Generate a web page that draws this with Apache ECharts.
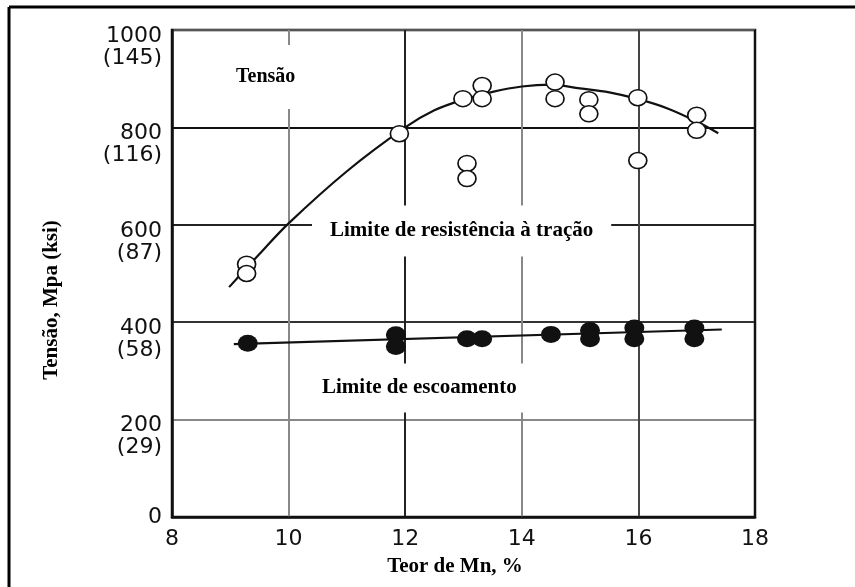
<!DOCTYPE html>
<html>
<head>
<meta charset="utf-8">
<script src="https://cdn.jsdelivr.net/npm/echarts@6/dist/echarts.min.js"></script>
<style>
  html, body { margin: 0; padding: 0; background: #fff; }
  #chart { width: 855px; height: 587px; }
</style>
</head>
<body>
<div id="chart"></div>
<script>
// Axis ticks: Mn content (%) and stress in MPa with the ksi equivalent underneath
const mnTicks = [8, 10, 12, 14, 16, 18];
const mpaTicks = [0, 200, 400, 600, 800, 1000];
const ksiTicks = ['', '(29)', '(58)', '(87)', '(116)', '(145)'];

// Tensile strength measurements (open circles)
const tensileMn  = [9.28, 9.28, 11.9, 12.99, 13.06, 13.06, 13.32, 13.32, 14.57, 14.57, 15.15, 15.15, 15.99, 15.99, 17.0, 17.0];
const tensileMpa = [519, 500, 787, 859, 726, 695, 886, 859, 893, 859, 857, 828, 861, 732, 825, 794];

// Trend curve through the tensile strength data
const tensileFitMn  = [8.98, 9.5, 10, 11, 12, 12.5, 13, 13.5, 14, 14.5, 15, 15.5, 16, 16.5, 17, 17.37];
const tensileFitMpa = [472, 540, 603, 710, 800, 835, 857, 873, 884, 888, 880, 872, 858, 839, 812, 788];

// Yield strength measurements (filled circles)
const yieldMn  = [9.3, 11.84, 11.84, 13.06, 13.32, 14.5, 15.17, 15.17, 15.93, 15.93, 16.96, 16.96];
const yieldMpa = [357, 374, 350, 366, 366, 375, 383, 366, 388, 366, 388, 366];

// Straight trend line for the yield strength
const yieldFitMn  = [9.06, 17.43];
const yieldFitMpa = [355, 385];

const pair = (xs, ys) => xs.map((x, i) => [x, ys[i]]);

const serif = '"Liberation Serif", "Times New Roman", serif';
const sans = '"DejaVu Sans", Arial, sans-serif';

const chart = echarts.init(document.getElementById('chart'));

chart.setOption({
  backgroundColor: '#fff',
  animation: false,
  grid: {
    left: 172, right: 100, top: 30, bottom: 70,
    show: true, borderColor: '#111', borderWidth: 2.5, backgroundColor: 'transparent'
  },
  xAxis: {
    type: 'value',
    min: mnTicks[0], max: mnTicks[mnTicks.length - 1], interval: 2,
    axisLine: { show: true, lineStyle: { color: '#111', width: 2.5 } },
    axisTick: { show: false },
    splitLine: { show: true, lineStyle: { color: ['#111', '#888', '#222', '#888', '#444', '#111'], width: 2 } },
    axisLabel: { color: '#111', fontFamily: sans, fontSize: 22, margin: 11 }
  },
  yAxis: {
    type: 'value',
    min: mpaTicks[0], max: mpaTicks[mpaTicks.length - 1], interval: 200,
    axisLine: { show: true, lineStyle: { color: '#111', width: 2.5 } },
    axisTick: { show: false },
    splitLine: { show: true, lineStyle: { color: ['#111', '#888', '#333', '#222', '#111', '#555'], width: 1.8 } },
    axisLabel: {
      color: '#111', fontFamily: sans, fontSize: 22, margin: 10,
      verticalAlign: 'top', align: 'right',
      formatter: v => {
        const i = mpaTicks.indexOf(v);
        return ksiTicks[i] ? '{a|' + v + '}\n{b|' + ksiTicks[i] + '}' : '{c|' + v + '}';
      },
      rich: {
        a: { fontFamily: sans, fontSize: 22, color: '#111', lineHeight: 12, align: 'right' },
        b: { fontFamily: sans, fontSize: 22, color: '#111', lineHeight: 32, align: 'right' },
        c: { fontFamily: sans, fontSize: 22, color: '#111', lineHeight: 1, align: 'right' }
      }
    }
  },
  graphic: [
    // outer frame (left and top edges)
    { type: 'line', shape: { x1: 9, y1: 7, x2: 855, y2: 7 }, style: { stroke: '#000', lineWidth: 3 }, z: 100 },
    { type: 'line', shape: { x1: 9, y1: 7, x2: 9, y2: 587 }, style: { stroke: '#000', lineWidth: 3 }, z: 100 },
    // annotations, with white boxes that interrupt the grid
    { type: 'text', x: 232, y: 77, z: 50,
      style: { text: 'Tensão', font: 'bold 20px ' + serif, fill: '#000', verticalAlign: 'middle',
               backgroundColor: '#fff', padding: [22, 4, 22, 4] } },
    { type: 'text', x: 312, y: 231, z: 50,
      style: { text: 'Limite de resistência à tração', font: 'bold 21px ' + serif, fill: '#000', verticalAlign: 'middle',
               backgroundColor: '#fff', padding: [15, 18, 15, 18] } },
    { type: 'text', x: 312, y: 388, z: 50,
      style: { text: 'Limite de escoamento', font: 'bold 21px ' + serif, fill: '#000', verticalAlign: 'middle',
               backgroundColor: '#fff', padding: [14, 10, 14, 10] } },
    // axis titles
    { type: 'text', x: 455, y: 567, z: 50,
      style: { text: 'Teor de Mn, %', font: 'bold 21px ' + serif, fill: '#000', align: 'center', verticalAlign: 'middle' } },
    { type: 'text', x: 52, y: 300, rotation: Math.PI / 2, z: 50,
      style: { text: 'Tensão, Mpa (ksi)', font: 'bold 21px ' + serif, fill: '#000', align: 'center', verticalAlign: 'middle' } }
  ],
  series: [
    {
      name: 'Limite de resistência à tração (curva)',
      type: 'line', smooth: 0.35, showSymbol: false, symbol: 'none',
      data: pair(tensileFitMn, tensileFitMpa),
      lineStyle: { color: '#111', width: 2.2 }, z: 60
    },
    {
      name: 'Limite de resistência à tração',
      type: 'scatter', symbol: 'circle', symbolSize: [18, 16],
      data: pair(tensileMn, tensileMpa),
      itemStyle: { color: '#fff', borderColor: '#111', borderWidth: 1.6, opacity: 1 }, z: 61
    },
    {
      name: 'Limite de escoamento (reta)',
      type: 'line', showSymbol: false, symbol: 'none',
      data: pair(yieldFitMn, yieldFitMpa),
      lineStyle: { color: '#111', width: 2.2 }, z: 60
    },
    {
      name: 'Limite de escoamento',
      type: 'scatter', symbol: 'circle', symbolSize: [20, 17],
      data: pair(yieldMn, yieldMpa),
      itemStyle: { color: '#111', opacity: 1 }, z: 61
    }
  ]
});
</script>
</body>
</html>
